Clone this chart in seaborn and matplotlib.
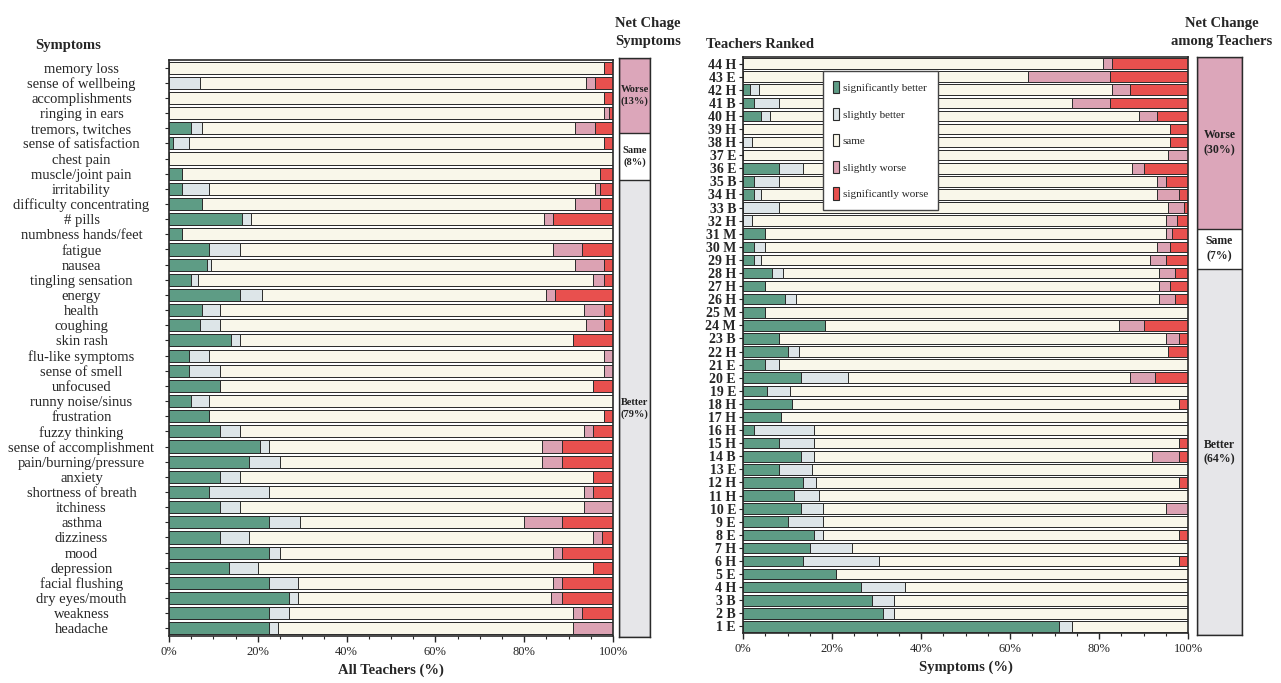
import matplotlib
matplotlib.use("Agg")
import matplotlib.pyplot as plt
import matplotlib.patches as mpatches
import seaborn as sns
import pandas as pd

# ---- left panel: symptoms (all teachers), % of responses ----
symptoms = ["memory loss", "sense of wellbeing", "accomplishments", "ringing in ears",
            "tremors, twitches", "sense of satisfaction", "chest pain", "muscle/joint pain",
            "irritability", "difficulty concentrating", "# pills", "numbness hands/feet",
            "fatigue", "nausea", "tingling sensation", "energy", "health", "coughing",
            "skin rash", "flu-like symptoms", "sense of smell", "unfocused",
            "runny noise/sinus", "frustration", "fuzzy thinking", "sense of accomplishment",
            "pain/burning/pressure", "anxiety", "shortness of breath", "itchiness", "asthma",
            "dizziness", "mood", "depression", "facial flushing", "dry eyes/mouth",
            "weakness", "headache"]
s_sig_better = [0, 0, 0, 0, 5, 1, 0, 3, 3, 7.5, 16.5, 3, 9, 8.5, 5, 16, 7.5, 7, 14, 4.5, 4.5,
                11.5, 5, 9, 11.5, 20.5, 18, 11.5, 9, 11.5, 22.5, 11.5, 22.5, 13.5, 22.5, 27,
                22.5, 22.5]
s_sl_better = [0, 7, 0, 0, 2.5, 3.5, 0, 0, 6, 0, 2, 0, 7, 1, 1.5, 5, 4, 4.5, 2, 4.5, 7, 0, 4,
               0, 4.5, 2, 7, 4.5, 13.5, 4.5, 7, 6.5, 2.5, 6.5, 6.5, 2, 4.5, 2]
s_same = [98, 87, 98, 98, 84, 93.5, 100, 94, 87, 84, 66, 97, 70.5, 82, 89, 64, 82, 82.5, 75,
          89, 86.5, 84, 91, 89, 77.5, 61.5, 59, 79.5, 71, 77.5, 50.5, 77.5, 61.5, 75.5, 57.5,
          57, 64, 66.5]
s_sl_worse = [0, 2, 0, 1, 4.5, 0, 0, 0, 1, 5.5, 2, 0, 6.5, 6.5, 2.5, 2, 4.5, 4, 0, 2, 2, 0, 0,
              0, 2, 4.5, 4.5, 0, 2, 6.5, 8.5, 2, 2, 0, 2, 2.5, 2, 9]
s_sig_worse = [2, 4, 2, 1, 4, 2, 0, 3, 3, 3, 13.5, 0, 7, 2, 2, 13, 2, 2, 9, 0, 0, 4.5, 0, 2,
               4.5, 11.5, 11.5, 4.5, 4.5, 0, 11.5, 2.5, 11.5, 4.5, 11.5, 11.5, 7, 0]

# ---- right panel: teachers ranked, % of symptoms ----
teachers = ["44 H", "43 E", "42 H", "41 B", "40 H", "39 H", "38 H", "37 E", "36 E", "35 B",
            "34 H", "33 B", "32 H", "31 M", "30 M", "29 H", "28 H", "27 H", "26 H", "25 M",
            "24 M", "23 B", "22 H", "21 E", "20 E", "19 E", "18 H", "17 H", "16 H", "15 H",
            "14 B", "13 E", "12 H", "11 H", "10 E", "9 E", "8 E", "7 H", "6 H", "5 E",
            "4 H", "3 B", "2 B", "1 E"]
t_sig_better = [0, 0, 1.5, 2.5, 4, 0, 0, 0, 8, 2.5, 2.5, 0, 0, 5, 2.5, 2.5, 6.5, 5, 9.5, 5,
                18.5, 8, 10, 5, 13, 5.5, 11, 8.5, 2.5, 8, 13, 8, 13.5, 11.5, 13, 10, 16, 15,
                13.5, 21, 26.5, 29, 31.5, 71]
t_sl_better = [0, 0, 2, 5.5, 2, 0, 2, 0, 5.5, 5.5, 1.5, 8, 2, 0, 2.5, 1.5, 2.5, 0, 2.5, 0, 0,
               0, 2.5, 3, 10.5, 5, 0, 0, 13.5, 8, 3, 7.5, 3, 5.5, 5, 8, 2, 9.5, 17, 0, 10, 5,
               2.5, 3]
t_same = [81, 64, 79.5, 66, 83, 96, 94, 95.5, 74, 85, 89, 87.5, 93, 90, 88, 87.5, 84.5, 88.5,
          81.5, 95, 66, 87, 83, 92, 63.5, 89.5, 87, 91.5, 84, 82, 76, 84.5, 81.5, 83, 77, 82,
          80, 75.5, 67.5, 79, 63.5, 66, 66, 26]
t_sl_worse = [2, 18.5, 4, 8.5, 4, 0, 0, 4.5, 2.5, 2, 5, 3.5, 2.5, 1.5, 3, 3.5, 3.5, 2.5, 3.5,
              0, 5.5, 3, 0, 0, 5.5, 0, 0, 0, 0, 0, 6, 0, 0, 0, 5, 0, 0, 0, 0, 0, 0, 0, 0, 0]
t_sig_worse = [17, 17.5, 13, 17.5, 7, 4, 4, 0, 10, 5, 2, 1, 2.5, 3.5, 4, 5, 3, 4, 3, 0, 10, 2,
               4.5, 0, 7.5, 0, 2, 0, 0, 2, 2, 0, 2, 0, 0, 0, 2, 0, 2, 0, 0, 0, 0, 0]

# ---- net change boxes (bottom to top: better, same, worse) ----
net_parts = ["Better", "Same", "Worse"]
net_symptoms = [79, 8, 13]
net_teachers = [64, 7, 30]

levels = ["significantly better", "slightly better", "same", "slightly worse",
          "significantly worse"]
colors = ["#5e9c85", "#dde5e8", "#f9f7ea", "#dca2b3", "#e8504e"]
net_colors = ["#e6e6e9", "#ffffff", "#dca6ba"]
edge = "#2a2a2a"

sns.set_theme(style="white")
plt.rcParams["font.family"] = ["Liberation Serif", "DejaVu Serif"]

W, H = 1281, 683
fig = plt.figure(figsize=(W / 100, H / 100), dpi=100)


def box(x0, x1, y0, y1):
    return [x0 / W, 1 - y1 / H, (x1 - x0) / W, (y1 - y0) / H]


ax1 = fig.add_axes(box(169, 613, 60, 636))
ax1n = fig.add_axes(box(619, 650, 58, 637))
ax2 = fig.add_axes(box(743, 1188, 57, 633))
ax2n = fig.add_axes(box(1197, 1242, 57, 635))


def stacked(ax, cats, cols):
    df = pd.DataFrame(dict(zip(levels, cols)), index=cats)
    cum = df.cumsum(axis=1)
    for lev, c in reversed(list(zip(levels, colors))):
        sns.barplot(x=cum[lev].values, y=cats, order=cats, color=c, orient="h",
                    width=0.8, saturation=1, edgecolor=edge, linewidth=0.7,
                    errorbar=None, ax=ax)
    ax.set_xlim(0, 100)
    ax.set_xticks(range(0, 101, 20))
    ax.set_xticklabels([f"{v}%" for v in range(0, 101, 20)], fontsize=9)
    ax.set_xticks(range(0, 101, 5), minor=True)
    ax.tick_params(axis="x", which="major", bottom=True, length=4, width=1, pad=3)
    ax.tick_params(axis="x", which="minor", bottom=True, length=2, width=0.8)
    ax.tick_params(axis="y", left=True, length=3, width=0.8, labelsize=10.5)
    ax.set_ylabel("")
    for s in ax.spines.values():
        s.set_color(edge)
        s.set_linewidth(1.2)


stacked(ax1, symptoms, [s_sig_better, s_sl_better, s_same, s_sl_worse, s_sig_worse])
ax1.tick_params(axis="y", pad=60)
for lab in ax1.get_yticklabels():
    lab.set_ha("center")
ax1.set_xlabel("All Teachers (%)", fontsize=10.5, fontweight="bold", labelpad=4)

stacked(ax2, teachers, [t_sig_better, t_sl_better, t_same, t_sl_worse, t_sig_worse])
ax2.tick_params(axis="y", pad=2, labelsize=10)
for lab in ax2.get_yticklabels():
    lab.set_fontweight("bold")
ax2.set_xlabel("Symptoms (%)", fontsize=10.5, fontweight="bold", labelpad=4)

handles = [mpatches.Patch(facecolor=c, edgecolor=edge, linewidth=0.8, label=l)
           for l, c in zip(levels, colors)]
leg = ax2.legend(handles=handles, loc="upper left", bbox_to_anchor=(0.168, 0.985),
                 frameon=True, fancybox=False, edgecolor="#444", framealpha=1,
                 fontsize=8, handlelength=0.5, handleheight=1.3, labelspacing=1.3,
                 handletextpad=0.35, borderpad=0.9)
leg.get_frame().set_linewidth(1.0)


def net_box(ax, vals, fs):
    cum = pd.Series(vals, index=net_parts).cumsum()
    for part, c in reversed(list(zip(net_parts, net_colors))):
        sns.barplot(x=["net"], y=[cum[part]], color=c, width=1.0, saturation=1,
                    edgecolor=edge, linewidth=1.0, errorbar=None, ax=ax)
    ax.set_xlim(-0.5, 0.5)
    ax.set_ylim(0, cum.iloc[-1])
    ax.set_xticks([])
    ax.set_yticks([])
    ax.set_xlabel("")
    ax.set_ylabel("")
    for s in ax.spines.values():
        s.set_color(edge)
        s.set_linewidth(1.0)
    lows = cum - pd.Series(vals, index=net_parts)
    for part, v in zip(net_parts, vals):
        mid = lows[part] + v / 2
        ax.text(0, mid, f"{part}\n({v}%)", ha="center", va="center", fontsize=fs,
                fontweight="bold", color="#222", linespacing=1.3)


net_box(ax1n, net_symptoms, 7.5)
net_box(ax2n, net_teachers, 8.5)

fig.text(68 / W, 1 - 45 / H, "Symptoms", ha="center", va="center", fontsize=10.5,
         fontweight="bold")
fig.text(760 / W, 1 - 44 / H, "Teachers Ranked", ha="center", va="center", fontsize=10.5,
         fontweight="bold")
fig.text(648 / W, 1 - 32 / H, "Net Chage\nSymptoms", ha="center", va="center",
         fontsize=10.5, fontweight="bold", linespacing=1.5)
fig.text(1222 / W, 1 - 32 / H, "Net Change\namong Teachers", ha="center", va="center",
         fontsize=10.5, fontweight="bold", linespacing=1.5)

fig.savefig("out.png", dpi=100, facecolor="white")
